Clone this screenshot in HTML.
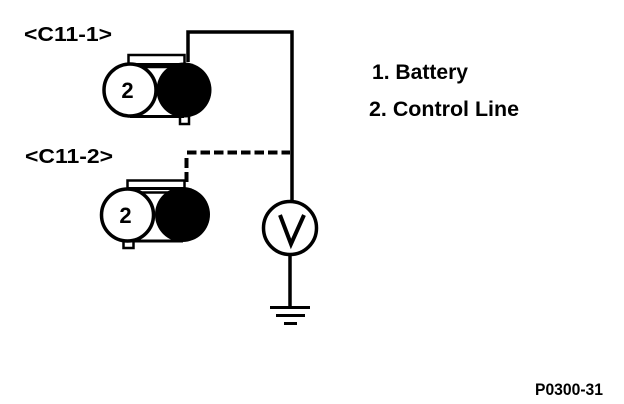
<!DOCTYPE html>
<html>
<head>
<meta charset="utf-8">
<style>
html,body{margin:0;padding:0;background:#fff;width:624px;height:404px;overflow:hidden}
svg{display:block}
text{font-family:"Liberation Sans",sans-serif;font-weight:bold;fill:#000}
</style>
</head>
<body>
<svg width="624" height="404" viewBox="0 0 624 404" xmlns="http://www.w3.org/2000/svg">
<rect width="624" height="404" fill="#fff"/>
<!-- wires -->
<path d="M188 62V32H292V202" fill="none" stroke="#000" stroke-width="3.5"/>
<path d="M187 152.500H290" fill="none" stroke="#000" stroke-width="4" stroke-dasharray="9.500 4"/>
<path d="M186.500 158V183" fill="none" stroke="#000" stroke-width="4" stroke-dasharray="10 4"/>
<!-- connector 1 -->
<rect x="128.500" y="55" width="56" height="12" fill="#fff" stroke="#000" stroke-width="2.500"/>
<rect x="180" y="116" width="9" height="8" fill="#fff" stroke="#000" stroke-width="2.500"/>
<path d="M130 64.500H184M130 116.500H184" stroke="#000" stroke-width="3"/>
<circle cx="184" cy="90" r="27.500" fill="#000"/>
<circle cx="130" cy="90" r="26" fill="#fff" stroke="#000" stroke-width="3.500"/>
<circle cx="184" cy="90" r="26.500" fill="#000"/>
<text x="127.500" y="98" font-size="22" text-anchor="middle">2</text>
<!-- connector 2 -->
<rect x="127.500" y="180.500" width="57" height="12" fill="#fff" stroke="#000" stroke-width="2.500"/>
<rect x="123.500" y="240" width="10" height="8" fill="#fff" stroke="#000" stroke-width="2.500"/>
<path d="M128 188.500H183M128 241H183" stroke="#000" stroke-width="3"/>
<circle cx="182.500" cy="214.500" r="27.500" fill="#000"/>
<circle cx="127.500" cy="215" r="26" fill="#fff" stroke="#000" stroke-width="3.500"/>
<circle cx="182.500" cy="214.500" r="27" fill="#000"/>
<text x="125.500" y="223" font-size="22" text-anchor="middle">2</text>
<!-- voltmeter -->
<circle cx="290" cy="228" r="26.500" fill="#fff" stroke="#000" stroke-width="3.500"/>
<path d="M280 215L291 244L304 215" fill="none" stroke="#000" stroke-width="4"/>
<path d="M290 255V307" stroke="#000" stroke-width="3.500"/>
<path d="M270 307.500H310M276 315.500H305M284 323.500H297" stroke="#000" stroke-width="3"/>
<!-- labels -->
<text x="24" y="41" font-size="20" textLength="88" lengthAdjust="spacingAndGlyphs">&lt;C11-1&gt;</text>
<text x="25" y="163" font-size="20" textLength="88" lengthAdjust="spacingAndGlyphs">&lt;C11-2&gt;</text>
<text x="372" y="79" font-size="21" textLength="96" lengthAdjust="spacingAndGlyphs">1. Battery</text>
<text x="369" y="116" font-size="21" textLength="150" lengthAdjust="spacingAndGlyphs">2. Control Line</text>
<text x="535" y="395" font-size="17" textLength="68" lengthAdjust="spacingAndGlyphs">P0300-31</text>
</svg>
</body>
</html>
